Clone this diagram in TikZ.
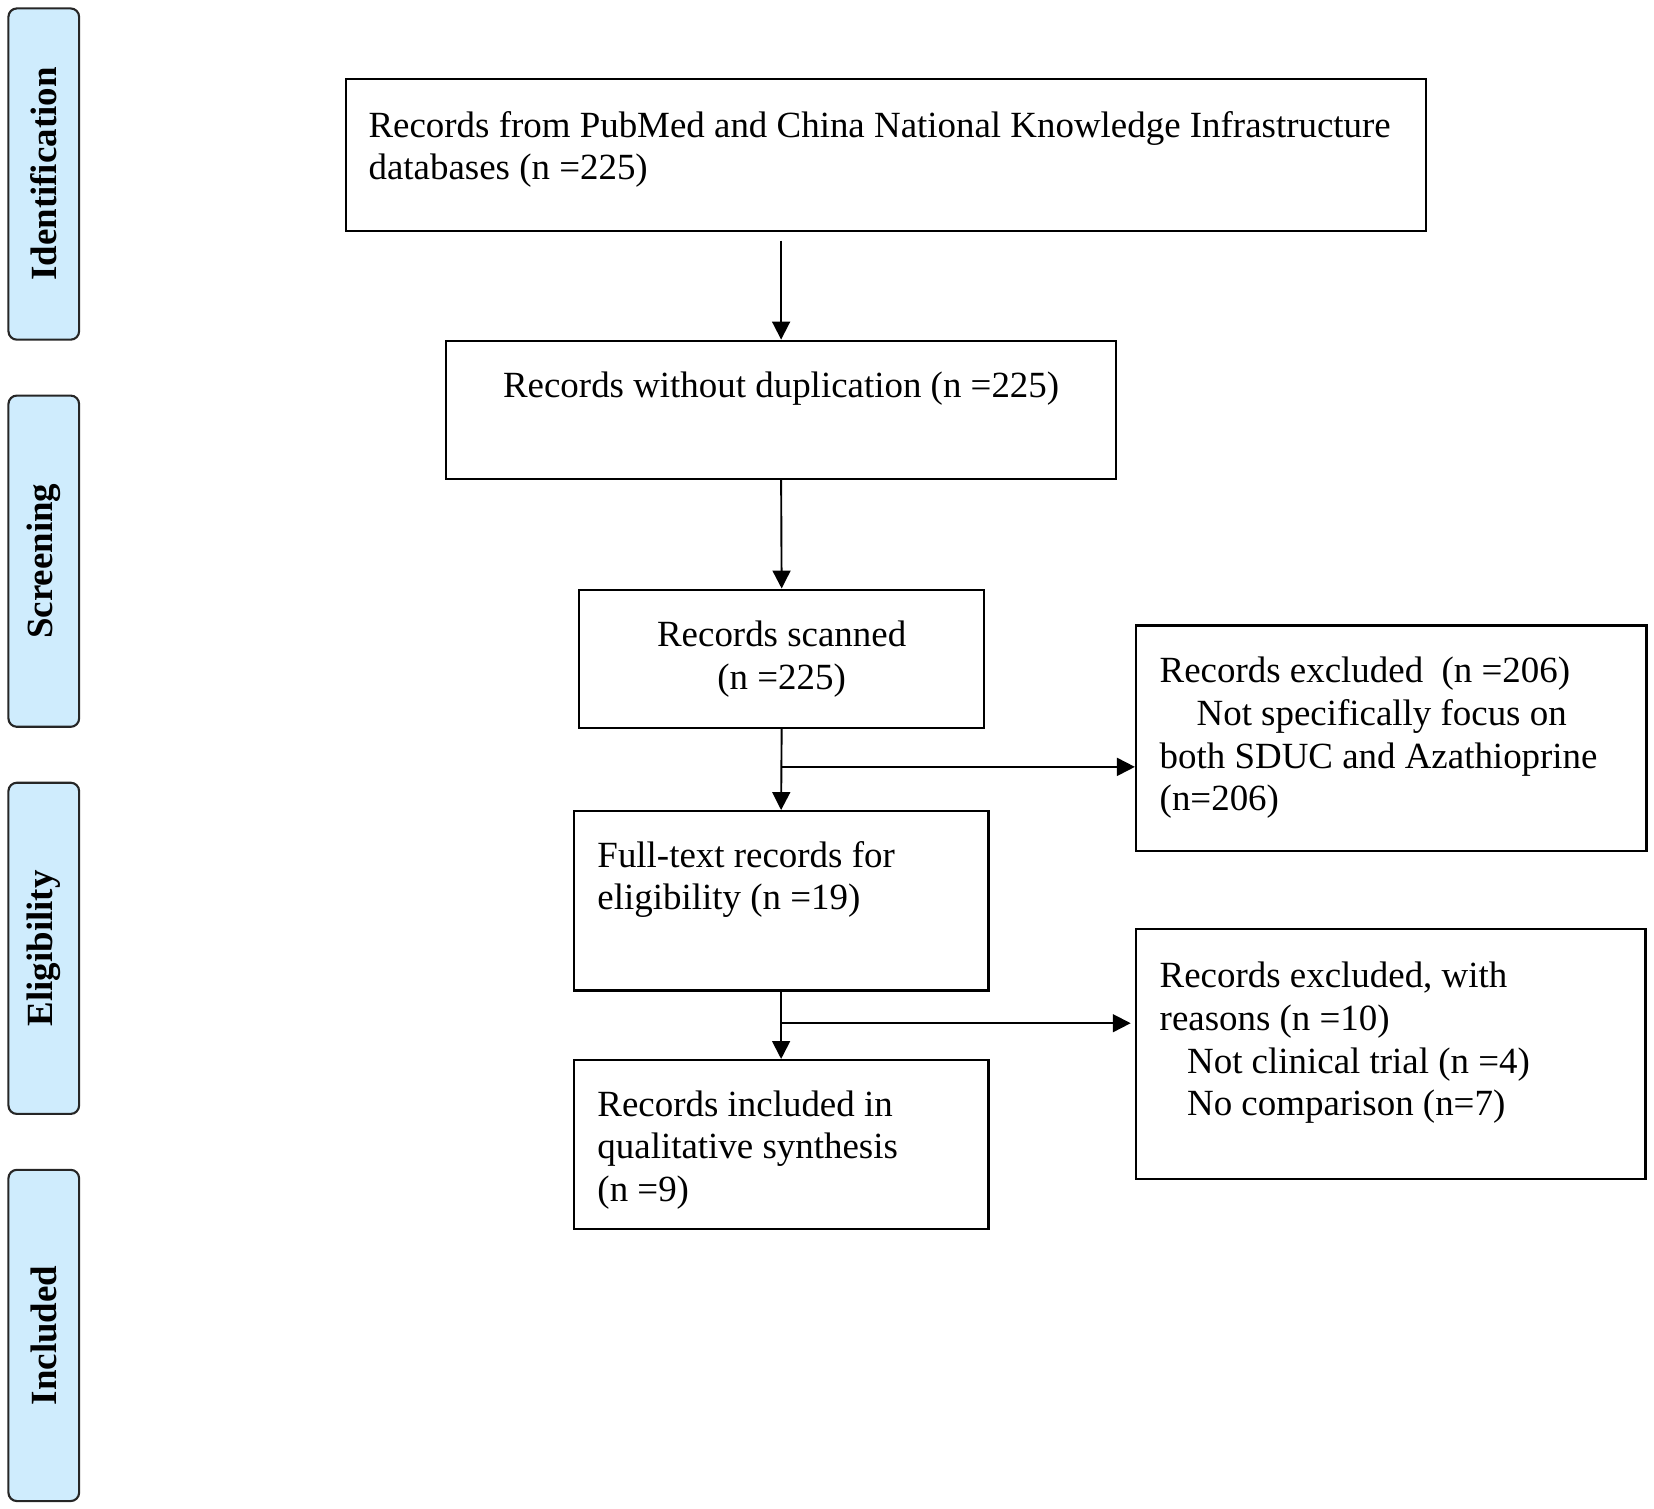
\documentclass[tikz,border=0pt]{standalone}
\usepackage{fontspec}
\setmainfont{Liberation Serif}
\usetikzlibrary{arrows.meta}
\definecolor{sidefill}{RGB}{207,236,253}
\begin{document}
\begin{tikzpicture}[x=0.5pt,y=-0.5pt,
  box/.style={draw=black,line width=1.1pt,rectangle,inner sep=0pt},
  side/.style={draw=black!85,fill=sidefill,rounded corners=4pt,line width=1pt,rectangle,inner sep=0pt,minimum width=33.5pt,minimum height=157pt},
  lab/.style={font=\fontsize{17.5}{20.3}\selectfont,inner sep=0pt},
  sidelab/.style={font=\fontsize{17.5}{20.3}\selectfont\bfseries,rotate=90,inner sep=0pt},
  arr/.style={line width=0.9pt,-{Triangle[length=8.5pt,width=8.5pt]}}]
\useasboundingbox (0,0) rectangle (1568,1429.7);

% side stage boxes
\node[side] (s1) at (41.5,165) {};
\node[side] (s2) at (41.5,532) {};
\node[side] (s3) at (41.5,899) {};
\node[side] (s4) at (41.5,1266) {};
\node[sidelab] (l1) at (s1.center) {Identification};
\node[sidelab] (l2) at (s2.center) {Screening};
\node[sidelab] (l3) at (s3.center) {Eligibility};
\node[sidelab] (l4) at (s4.center) {Included};

% flow boxes
\node[box,minimum width=512pt,minimum height=72pt] (b1) at (840,147) {};
\node[box,minimum width=317.5pt,minimum height=65.5pt] (b2) at (740.5,388.5) {};
\node[box,minimum width=192pt,minimum height=65.5pt] (b3) at (741,624.5) {};
\node[box,minimum width=242pt,minimum height=107pt] (b4) at (1319,700) {};
\node[box,minimum width=196.5pt,minimum height=85pt] (b5) at (740.5,854) {};
\node[box,minimum width=241.5pt,minimum height=118.5pt] (b6) at (1318.5,999.5) {};
\node[box,minimum width=196.5pt,minimum height=80pt] (b7) at (740.5,1085) {};

% texts (anchor = baseline of the last line)
\node[lab,anchor=base west,align=left] (t1) at (349,170.6) {Records from PubMed and China National Knowledge Infrastructure\\databases (n =225)};
\node[lab,anchor=base] (t2) at (740.5,377) {Records without duplication (n =225)};
\node[lab,anchor=base,align=center] (t3) at (741,653.6) {Records scanned\\(n =225)};
\node[lab,anchor=base west,align=left] (t4) at (1099,768.8) {Records excluded\ \ (n =206)\\\hspace*{17.5pt}Not specifically focus on\\both SDUC and Azathioprine\\(n=206)};
\node[lab,anchor=base west,align=left] (t5) at (566,862.6) {Full-text records for\\eligibility (n =19)};
\node[lab,anchor=base west,align=left] (t6) at (1099,1057.8) {Records excluded, with\\reasons (n =10)\\\hspace*{13pt}Not clinical trial (n =4)\\\hspace*{13pt}No comparison (n=7)};
\node[lab,anchor=base west,align=left] (t7) at (566,1139.2) {Records included in\\qualitative synthesis\\(n =9)};

% connectors
\coordinate (j1) at (741,727);
\coordinate (j2) at (741,970);
\draw[arr,shorten <=4pt] (b1.south -| b2.north) -- (b2.north);
\draw[arr] (b2.south) -- (b3.north);
\draw[arr] (b3.south) -- (b5.north);
\draw[arr] (j1) -- (j1 -| b4.west);
\draw[arr] (b5.south) -- (b7.north);
\draw[arr,shorten >=2pt] (j2) -- (j2 -| b6.west);
\end{tikzpicture}
\end{document}
